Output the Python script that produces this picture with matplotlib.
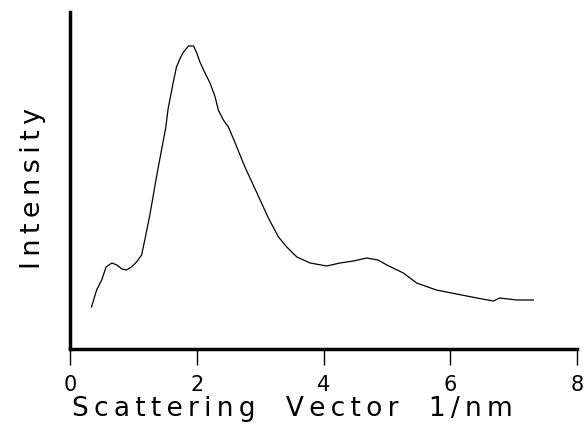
import matplotlib
matplotlib.use("Agg")
import matplotlib.pyplot as plt

plt.rcParams['font.family'] = ['DejaVu Sans']

# Scattering vector (1/nm) and intensity (arbitrary units)
q = [0.34, 0.42, 0.50, 0.57, 0.66, 0.74, 0.82, 0.89, 0.97, 1.05, 1.13, 1.18,
     1.26, 1.37, 1.45, 1.51, 1.55, 1.60, 1.63, 1.68, 1.74, 1.79, 1.87, 1.95,
     2.00, 2.05, 2.13, 2.21, 2.29, 2.34, 2.42, 2.50, 2.60, 2.76, 2.87, 3.00,
     3.13, 3.29, 3.42, 3.58, 3.79, 4.05, 4.26, 4.47, 4.68, 4.86, 5.00, 5.26,
     5.47, 5.78, 6.10, 6.42, 6.68, 6.78, 7.05, 7.31]
intensity = [42, 59, 69, 82, 86, 84, 80, 79, 82, 87, 94, 109,
             134, 174, 201, 221, 241, 257, 267, 282, 291, 297, 303, 303,
             296, 287, 276, 266, 252, 239, 229, 222, 207, 182, 167, 149,
             131, 112, 102, 92, 86, 83, 86, 88, 91, 89, 84, 76,
             66, 59, 55, 51, 48, 51, 49, 49]

xticks = [0, 2, 4, 6, 8]


def spaced(s):
    # the original lettering is widely tracked
    return '   \u2009'.join('\u2009'.join(w) for w in s.split(' '))


fig = plt.figure(figsize=(5.84, 4.30), dpi=100)
ax = fig.add_axes([70 / 584, 81 / 430, 507 / 584, 337 / 430])
ax.plot(q, intensity, color='black', lw=0.9)

ax.set_xlim(0, 8)
ax.set_ylim(0, 337)
ax.set_xticks(xticks)
ax.set_xticklabels([str(t) for t in xticks], fontsize=15)
ax.set_yticks([])
ax.tick_params(axis='x', direction='out', length=11.5, width=1, pad=7.5)

for side in ['top', 'right']:
    ax.spines[side].set_visible(False)
for side in ['left', 'bottom']:
    ax.spines[side].set_linewidth(2.5)

fig.text(72 / 584, 1 - 416 / 430, spaced("Scattering Vector 1/nm"),
         fontsize=19, ha='left', va='baseline')
fig.text(40 / 584, 1 - 188 / 430, spaced("Intensity"),
         fontsize=19.5, rotation=90, rotation_mode='anchor',
         ha='center', va='baseline')

fig.savefig("out.png", dpi=100)
